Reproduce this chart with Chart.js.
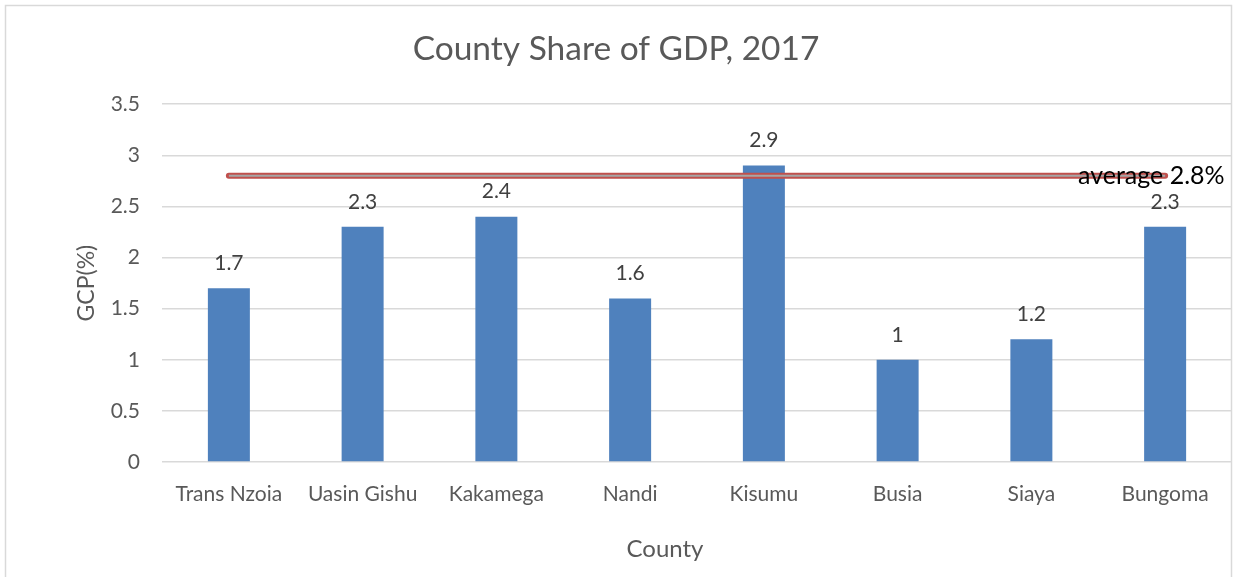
<!DOCTYPE html>
<html>
<head>
<meta charset="utf-8">
<script src="https://cdn.jsdelivr.net/npm/chart.js@4"></script>
<style>
  html, body { margin: 0; padding: 0; background: #fff; }
  #wrap { position: relative; width: 1238px; height: 577px; }
</style>
</head>
<body>
<div id="wrap"><canvas id="myChart" width="1238" height="577"></canvas></div>
<script>
const counties = ["Trans Nzoia", "Uasin Gishu", "Kakamega", "Nandi", "Kisumu", "Busia", "Siaya", "Bungoma"];
const gcp = [1.7, 2.3, 2.4, 1.6, 2.9, 1, 1.2, 2.3];
const average = 2.8;
const averageLine = counties.map(() => average);
const yTicks = [0, 0.5, 1, 1.5, 2, 2.5, 3, 3.5];

const fontFam = "Lato, 'Open Sans', sans-serif";
const ctx = document.getElementById("myChart");

// border, value labels, average label, x title
const extras = {
  id: "extras",
  beforeDraw(chart) {
    const c = chart.ctx;
    c.save();
    c.strokeStyle = "#d9d9d9";
    c.lineWidth = 1.5;
    c.strokeRect(5.5, 5.5, 1226, 600);
    c.restore();
  },
  afterDatasetsDraw(chart) {
    const c = chart.ctx;
    const meta = chart.getDatasetMeta(2);
    c.save();
    c.font = "21px " + fontFam;
    c.fillStyle = "#404040";
    c.textAlign = "center";
    c.textBaseline = "middle";
    meta.data.forEach((bar, i) => {
      c.fillText(String(gcp[i]), bar.x, bar.y - 25);
    });
    c.font = "24px " + fontFam;
    c.fillStyle = "#595959";
    c.fillText("County", 665, 549);
    const y = chart.scales.y.getPixelForValue(average);
    c.font = "25px " + fontFam;
    c.fillStyle = "#000";
    c.textAlign = "left";
    c.fillText("average 2.8%", 1078, y);
    c.restore();
  }
};

const chart = new Chart(ctx, {
  type: "bar",
  data: {
    labels: counties,
    datasets: [
      {
        type: "line",
        label: "avg-inner",
        data: averageLine,
        borderColor: "#a6a6a6",
        borderWidth: 2,
        pointRadius: 0,
        order: 0,
      },
      {
        type: "line",
        label: "avg",
        data: averageLine,
        borderColor: "#c0504d",
        borderWidth: 6,
        pointRadius: 0,
        borderCapStyle: "round",
        order: 1,
      },
      {
        label: "GCP(%)",
        data: gcp,
        backgroundColor: "#4f81bd",
        categoryPercentage: 1,
        barPercentage: 0.314,
        order: 2,
      },
    ],
  },
  options: {
    responsive: false,
    animation: false,
    layout: { padding: { left: 0, right: 6, top: 0, bottom: 0 } },
    plugins: {
      legend: { display: false },
      tooltip: { enabled: false },
      title: {
        display: true,
        text: "County Share of GDP, 2017",
        color: "#595959",
        font: { family: fontFam, size: 33.5, weight: "normal" },
        padding: { top: 29, bottom: 35 },
      },
    },
    scales: {
      x: {
        grid: { display: false, drawTicks: false },
        border: { display: false },
        ticks: { color: "#595959", font: { family: fontFam, size: 21 }, padding: 20 },
        afterFit(s) { s.height = 115; },
      },
      y: {
        min: 0,
        max: 3.5,
        afterBuildTicks(s) { s.ticks = yTicks.map(v => ({ value: v })); },
        grid: { color: "#d9d9d9", lineWidth: 1.5, drawTicks: false },
        border: { display: false },
        ticks: {
          color: "#595959",
          font: { family: fontFam, size: 21 },
          padding: 22,
          callback: v => String(v),
        },
        title: {
          display: true,
          text: "GCP(%)",
          color: "#595959",
          font: { family: fontFam, size: 23 },
          padding: { top: 73, bottom: 0 },
        },
        afterFit(s) { s.width = 162; },
      },
    },
  },
  plugins: [extras],
});
</script>
</body>
</html>
